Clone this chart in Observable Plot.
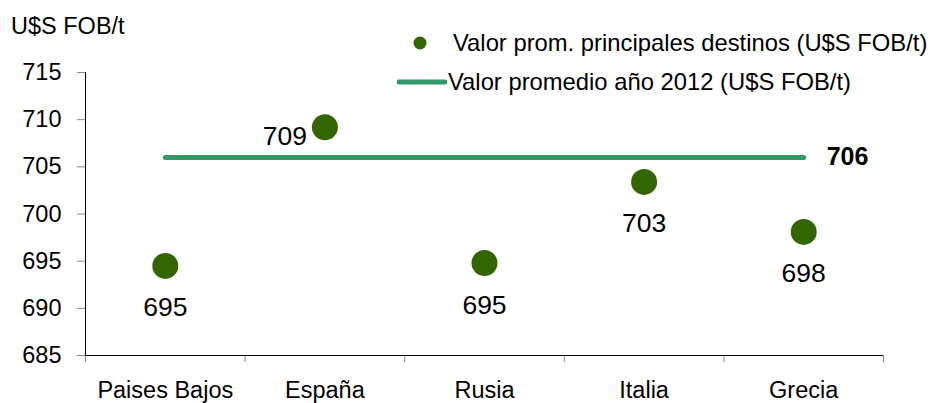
<!DOCTYPE html>
<html><head><meta charset="utf-8">
<script src="https://cdn.jsdelivr.net/npm/d3@7"></script>
<script src="https://cdn.jsdelivr.net/npm/@observablehq/plot@0.6"></script>
<style>
body{margin:0;background:#fff;font-family:"Liberation Sans",Arial,sans-serif;}
#wrap{position:relative;width:938px;height:403px;overflow:hidden;}
#chart svg{position:absolute;left:0;top:0;}
.lbl{position:absolute;color:#000;white-space:nowrap;line-height:1;}
.row{position:absolute;display:flex;align-items:center;height:24px;font-size:23.8px;color:#000;white-space:nowrap;}
</style></head><body>
<div id="wrap">
  <div id="chart"></div>
  <div class="lbl" style="left:11px;top:15px;font-size:23.5px;">U$S FOB/t</div>
  <div class="row" style="left:408px;top:31px;">
    <svg width="24" height="24" style="margin-right:21px"><circle cx="12" cy="12" r="6.5" fill="#336600"/></svg>
    <span>Valor prom. principales destinos (U$S FOB/t)</span>
  </div>
  <div class="row" style="left:397px;top:70px;">
    <svg width="50" height="24" style="margin-right:1px"><line x1="2" y1="12" x2="48" y2="12" stroke="#339966" stroke-width="5" stroke-linecap="round"/></svg>
    <span>Valor promedio año 2012 (U$S FOB/t)</span>
  </div>
</div>
<script>
const categories = ["Paises Bajos", "España", "Rusia", "Italia", "Grecia"];
const values = [694.5, 709.2, 694.8, 703.4, 698.1];
const valueLabels = ["695", "709", "695", "703", "698"];
const average2012 = 706;
const yTicks = [685, 690, 695, 700, 705, 710, 715];

const data = categories.map((c, i) => ({cat: c, pos: i + 0.5, value: values[i], label: valueLabels[i]}));
const boundaries = d3.range(categories.length + 1);
const leftLabelled = new Set(["España"]);

const chart = Plot.plot({
  width: 938,
  height: 403,
  marginLeft: 85,
  marginRight: 55,
  marginTop: 72,
  marginBottom: 48,
  style: {fontFamily: "Liberation Sans, Arial, sans-serif", fontSize: "23.5px", color: "#000", background: "transparent", overflow: "visible"},
  x: {domain: [0, categories.length]},
  y: {domain: [685, 715]},
  marks: [
    Plot.axisY({ticks: yTicks, tickSize: 8, stroke: "#888", tickFormat: () => "", label: null}),
    Plot.axisY({ticks: yTicks, tickSize: 0, tickPadding: 24, tickFormat: d => String(d), label: null, fill: "#000"}),
    Plot.axisX({ticks: boundaries, tickSize: 7, stroke: "#888", tickFormat: () => "", label: null}),
    Plot.axisX({ticks: data.map(d => d.pos), tickSize: 0, tickPadding: 26, tickFormat: p => categories[Math.floor(p)], label: null, fill: "#000"}),
    Plot.ruleX([0], {stroke: "#000", strokeWidth: 1}),
    Plot.ruleY([685], {stroke: "#000", strokeWidth: 1}),
    Plot.line(data, {x: "pos", y: () => average2012, stroke: "#339966", strokeWidth: 5, strokeLinecap: "round"}),
    Plot.dot(data, {x: "pos", y: "value", r: 13, fill: "#336600", stroke: "none"}),
    Plot.text(data.filter(d => !leftLabelled.has(d.cat)), {x: "pos", y: "value", text: "label", dy: 42, fontSize: 26.5, fill: "#000"}),
    Plot.text(data.filter(d => leftLabelled.has(d.cat)), {x: "pos", y: "value", text: "label", dx: -40, dy: 9, fontSize: 26.5, fill: "#000"}),
    Plot.text([average2012], {x: data[data.length - 1].pos, y: d => d, text: d => String(d), dx: 23, textAnchor: "start", fontWeight: "bold", fontSize: 25, fill: "#000"})
  ]
});
document.getElementById("chart").appendChild(chart);
</script>
</body></html>
